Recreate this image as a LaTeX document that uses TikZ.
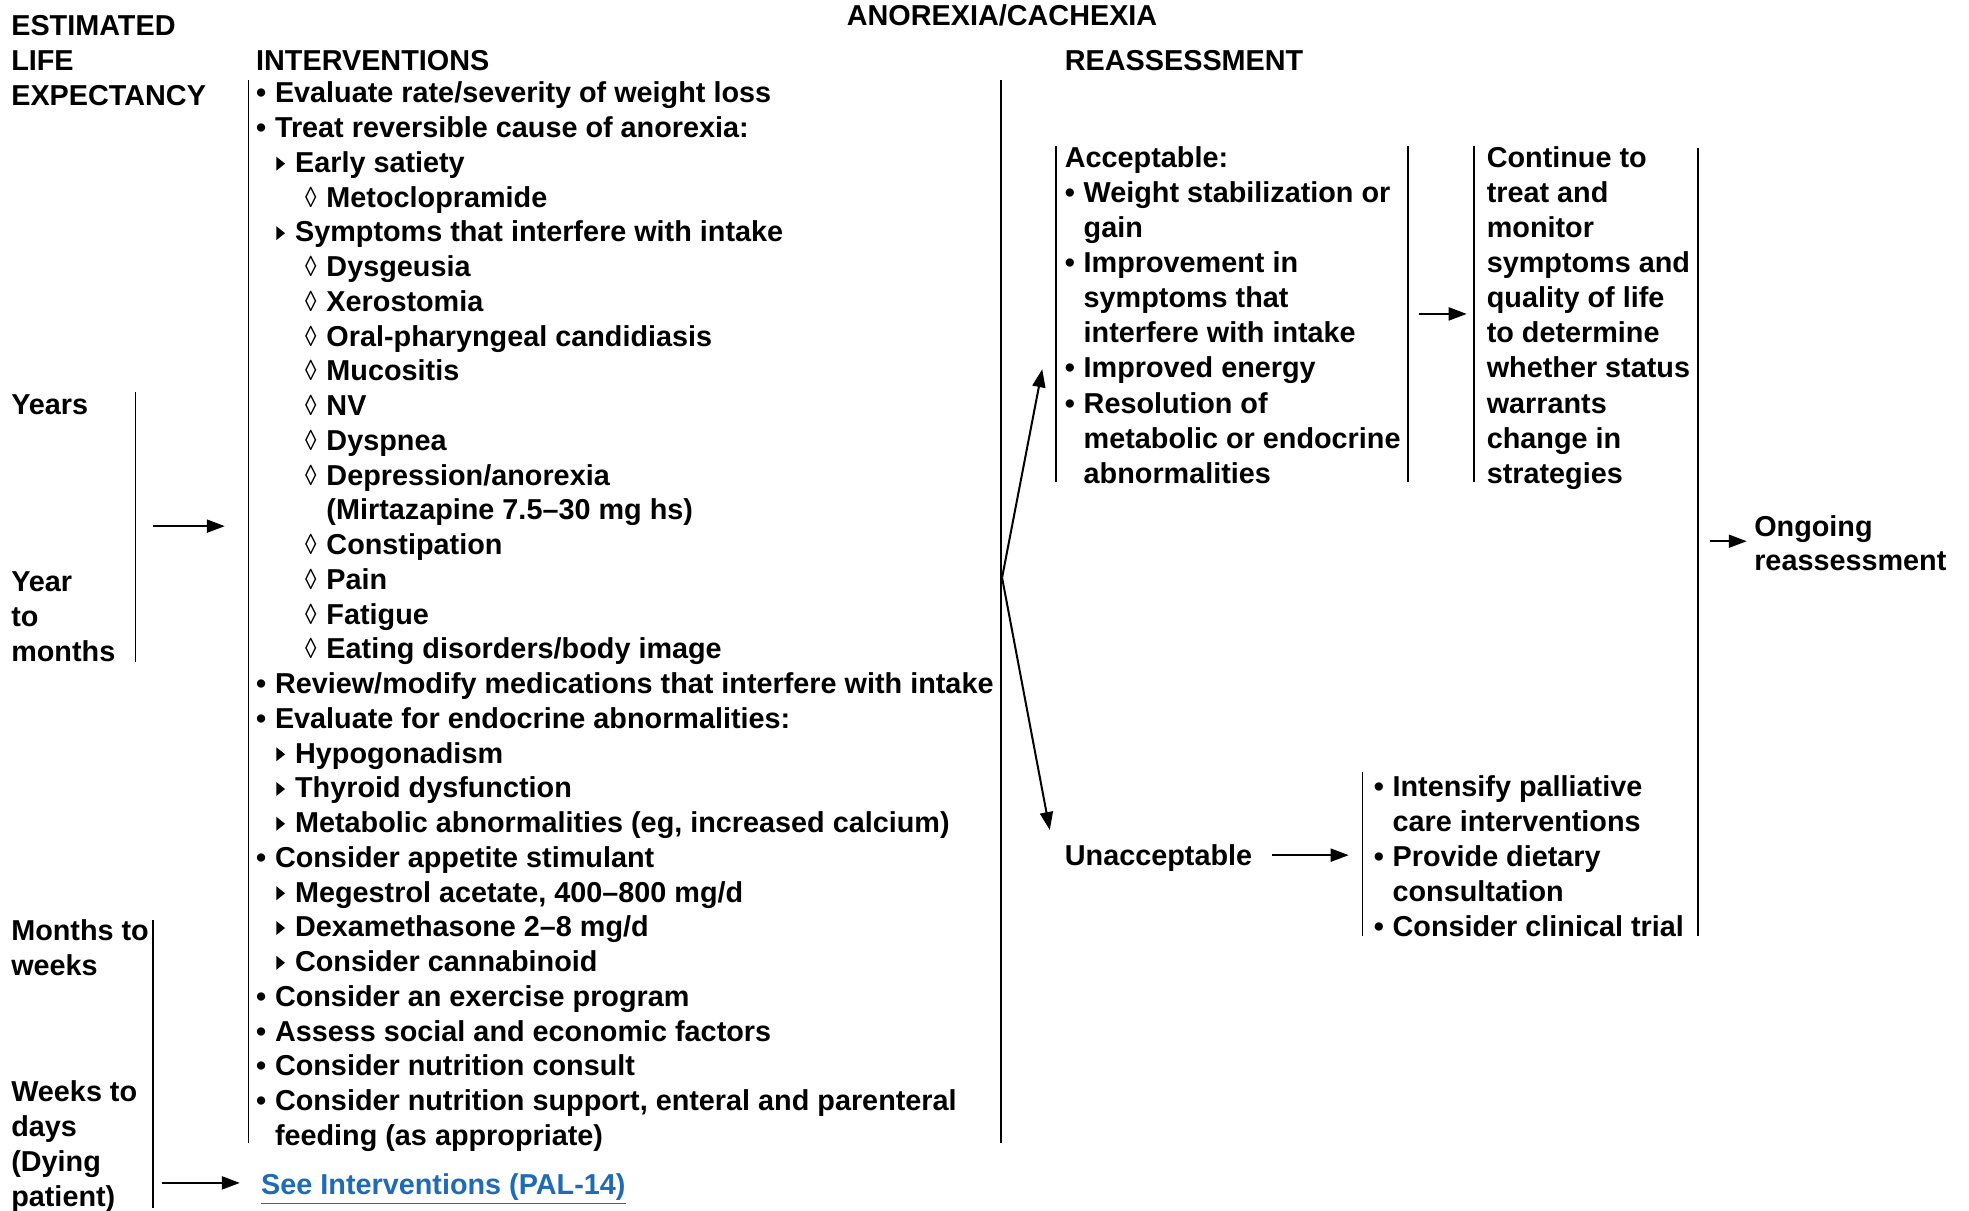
\documentclass[tikz,border=0pt]{standalone}
\usepackage{fontspec}
\setmainfont{Liberation Sans}
\usetikzlibrary{arrows.meta}
\definecolor{linkblue}{HTML}{1F6BB5}

% list lines: first baseline at 82, line pitch 27.667
\newcommand\lvA[3]{%
  \node[txt] (#1m) at (204,{82+27.667*#2}) {•};
  \node[txt] (#1) at (219,{82+27.667*#2}) {#3};}
\newcommand\lvB[3]{%
  \fill (220,{75+27.667*#2-5.6}) -- (227,{75+27.667*#2}) -- (220,{75+27.667*#2+5.6}) -- cycle;
  \node[txt] (#1) at (235,{82+27.667*#2}) {#3};}
\newcommand\lvC[3]{%
  \node[txt, xscale=0.8, font=\mdseries\fontsize{14.4pt}{17.4pt}\selectfont] (#1m) at (243,{82+27.667*#2}) {◊};
  \node[txt] (#1) at (260,{82+27.667*#2}) {#3};}
\newcommand\lvN[4]{%
  \node[txt] (#1) at (#4,{82+27.667*#2}) {#3};}

\begin{document}
\begin{tikzpicture}[x=0.6279pt, y=-0.6279pt,
  txt/.style={anchor=base west, inner sep=0pt, outer sep=0pt,
              font=\bfseries\fontsize{14.4pt}{17.4pt}\selectfont},
  rule/.style={line width=0.85pt},
  flow/.style={line width=1pt, -{Triangle[length=9pt,width=6.5pt]}}]

\useasboundingbox (0,0) rectangle (1568,964);

% headings
\node[txt, anchor=base] (title) at (798,20) {ANOREXIA/CACHEXIA};
\node[txt] (est) at (9,28) {ESTIMATED};
\node[txt] (life) at (9,56) {LIFE};
\node[txt] (expect) at (9,84) {EXPECTANCY};
\node[txt] (interv) at (204,56) {INTERVENTIONS};
\node[txt] (reass) at (848,56) {REASSESSMENT};

% life expectancy groups
\node[txt] (years) at (9,330) {Years};
\node[txt] (yearA) at (9,471) {Year};
\node[txt] (yearB) at (9,499) {to};
\node[txt] (yearC) at (9,527) {months};
\node[txt] (mwA) at (9,749) {Months to};
\node[txt] (mwB) at (9,777) {weeks};
\node[txt] (wdA) at (9,877) {Weeks to};
\node[txt] (wdB) at (9,905) {days};
\node[txt] (wdC) at (9,933) {(Dying};
\node[txt] (wdD) at (9,961) {patient)};

\draw[rule] (108,312) -- (108,527);
\draw[rule] (122,733) -- (122,962);

% interventions list
\draw[rule] (198,64) -- (198,910);
\draw[rule] (797,64) -- (797,910);
\lvA{i0}{0}{Evaluate rate/severity of weight loss}
\lvA{i1}{1}{Treat reversible cause of anorexia:}
\lvB{i2}{2}{Early satiety}
\lvC{i3}{3}{Metoclopramide}
\lvB{i4}{4}{Symptoms that interfere with intake}
\lvC{i5}{5}{Dysgeusia}
\lvC{i6}{6}{Xerostomia}
\lvC{i7}{7}{Oral-pharyngeal candidiasis}
\lvC{i8}{8}{Mucositis}
\lvC{i9}{9}{NV}
\lvC{i10}{10}{Dyspnea}
\lvC{i11}{11}{Depression/anorexia}
\lvN{i12}{12}{(Mirtazapine 7.5–30 mg hs)}{260}
\lvC{i13}{13}{Constipation}
\lvC{i14}{14}{Pain}
\lvC{i15}{15}{Fatigue}
\lvC{i16}{16}{Eating disorders/body image}
\lvA{i17}{17}{Review/modify medications that interfere with intake}
\lvA{i18}{18}{Evaluate for endocrine abnormalities:}
\lvB{i19}{19}{Hypogonadism}
\lvB{i20}{20}{Thyroid dysfunction}
\lvB{i21}{21}{Metabolic abnormalities (eg, increased calcium)}
\lvA{i22}{22}{Consider appetite stimulant}
\lvB{i23}{23}{Megestrol acetate, 400–800 mg/d}
\lvB{i24}{24}{Dexamethasone 2–8 mg/d}
\lvB{i25}{25}{Consider cannabinoid}
\lvA{i26}{26}{Consider an exercise program}
\lvA{i27}{27}{Assess social and economic factors}
\lvA{i28}{28}{Consider nutrition consult}
\lvA{i29}{29}{Consider nutrition support, enteral and parenteral}
\lvN{i30}{30}{feeding (as appropriate)}{219}

\node[txt, text=linkblue] (see) at (208,951) {\underline{See Interventions (PAL-14)}};

% acceptable outcome
\draw[rule] (841,116) -- (841,384);
\draw[rule] (1121,116) -- (1121,384);
\node[txt] (acc) at (848,133) {Acceptable:};
\node[txt] (a1m) at (848,161) {•};
\node[txt] (a1) at (863,161) {Weight stabilization or};
\node[txt] (a1b) at (863,189) {gain};
\node[txt] (a2m) at (848,217) {•};
\node[txt] (a2) at (863,217) {Improvement in};
\node[txt] (a2b) at (863,245) {symptoms that};
\node[txt] (a2c) at (863,273) {interfere with intake};
\node[txt] (a3m) at (848,301) {•};
\node[txt] (a3) at (863,301) {Improved energy};
\node[txt] (a4m) at (848,329) {•};
\node[txt] (a4) at (863,329) {Resolution of};
\node[txt] (a4b) at (863,357) {metabolic or endocrine};
\node[txt] (a4c) at (863,385) {abnormalities};

% continue monitoring
\draw[rule] (1174,116) -- (1174,384);
\node[txt] (c1) at (1184,133) {Continue to};
\node[txt] (c2) at (1184,161) {treat and};
\node[txt] (c3) at (1184,189) {monitor};
\node[txt] (c4) at (1184,217) {symptoms and};
\node[txt] (c5) at (1184,245) {quality of life};
\node[txt] (c6) at (1184,273) {to determine};
\node[txt] (c7) at (1184,301) {whether status};
\node[txt] (c8) at (1184,329) {warrants};
\node[txt] (c9) at (1184,357) {change in};
\node[txt] (c10) at (1184,385) {strategies};

% unacceptable outcome
\node[txt] (unacc) at (848,689) {Unacceptable};
\draw[rule] (1085,615) -- (1085,745);
\node[txt] (u1m) at (1094,634) {•};
\node[txt] (u1) at (1109,634) {Intensify palliative};
\node[txt] (u1b) at (1109,662) {care interventions};
\node[txt] (u2m) at (1094,690) {•};
\node[txt] (u2) at (1109,690) {Provide dietary};
\node[txt] (u2b) at (1109,718) {consultation};
\node[txt] (u3m) at (1094,746) {•};
\node[txt] (u3) at (1109,746) {Consider clinical trial};

\draw[rule] (1352,118) -- (1352,745);
\node[txt] (ong1) at (1397,427) {Ongoing};
\node[txt] (ong2) at (1397,454) {reassessment};

% connector end points
\coordinate (yrsOut) at (122,419);
\coordinate (intIn) at (179,419);
\coordinate (dyOut) at (129,942);
\coordinate (seeIn) at (191,942);
\coordinate (split) at (798,460);
\coordinate (accIn) at (830,294);
\coordinate (unaccIn) at (836,661);
\coordinate (accOut) at (1130,250);
\coordinate (contIn) at (1168,250);
\coordinate (allOut) at (1362,431);
\coordinate (ongIn) at (1391,431);
\coordinate (unaccOut) at (1013,681);
\coordinate (actIn) at (1074,681);

\draw[flow] (yrsOut) -- (intIn);
\draw[flow] (dyOut) -- (seeIn);
\draw[flow] (split) -- (accIn);
\draw[flow] (split) -- (unaccIn);
\draw[flow] (accOut) -- (contIn);
\draw[flow] (allOut) -- (ongIn);
\draw[flow] (unaccOut) -- (actIn);
\end{tikzpicture}
\end{document}
